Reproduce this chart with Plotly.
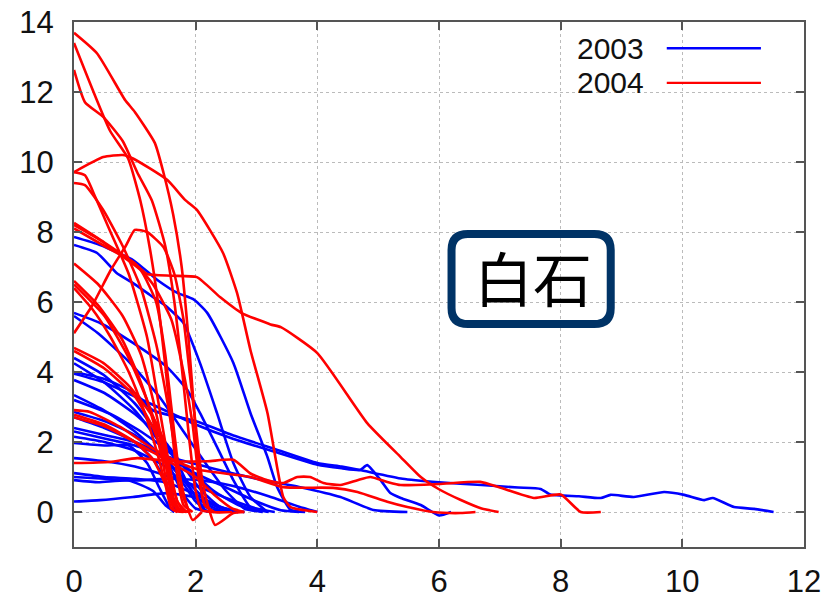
import plotly.graph_objects as go

# ---------------- data: 2003 (blue) ----------------
b01_x = [0, 0.43, 0.97, 1.37, 1.7, 1.96, 2.19, 2.62, 2.9, 3.18, 3.34, 3.56, 3.8]
b01_y = [7.86, 7.63, 7.2, 6.63, 6.26, 6.08, 5.69, 4.26, 2.83, 1.57, 0.71, 0.06, 0]
b02_x = [0, 0.38, 0.7, 0.97, 1.25, 1.5, 1.8, 2.07, 2.35, 2.62, 2.9, 3.18]
b02_y = [7.63, 7.4, 6.83, 6.54, 6.2, 5.9, 5.4, 4.26, 2.83, 1.4, 0.43, 0]
b03_x = [0, 0.43, 0.97, 1.53, 1.86, 2.07, 2.35, 2.62, 2.9, 3.2]
b03_y = [5.69, 5.4, 4.83, 4.14, 3.49, 2.83, 1.86, 0.91, 0.14, 0]
b04_x = [0, 0.4, 0.9, 1.4, 1.8, 2.2, 2.5, 2.8, 3.1]
b04_y = [5.6, 5.1, 4.3, 3.3, 2.3, 1.3, 0.6, 0.1, 0]
b05_x = [0, 0.5, 1.0, 1.4, 1.7, 1.9, 2.1, 2.4]
b05_y = [4.4, 3.9, 3.1, 2.2, 1.4, 0.7, 0.2, 0]
b06_x = [0, 0.5, 1.0, 1.4, 1.6, 1.8, 2.0, 2.3]
b06_y = [4.25, 3.7, 2.9, 2.0, 1.2, 0.5, 0.1, 0]
b07_x = [0, 0.5, 1.0, 1.3, 2.0, 2.6, 3.3, 4.0, 4.4, 4.7, 5.4, 6.0, 6.7, 7.3, 7.67, 7.83,
         8.3, 8.66, 8.82, 9.2, 9.7, 10.03, 10.36, 10.5, 10.85, 11.18, 11.5]
b07_y = [4.0, 3.8, 3.4, 2.9, 2.6, 2.2, 1.8, 1.4, 1.3, 1.2, 0.95, 0.85, 0.77, 0.7, 0.66, 0.5,
         0.45, 0.4, 0.49, 0.43, 0.57, 0.49, 0.34, 0.4, 0.14, 0.09, 0]
b08_x = [0, 0.5, 1.0, 1.5, 2.0, 2.6, 3.3, 4.0, 4.4, 4.7, 4.82, 5.04, 5.2, 5.37, 5.7, 6.0, 6.2]
b08_y = [3.95, 3.7, 3.3, 2.9, 2.5, 2.1, 1.72, 1.35, 1.25, 1.2, 1.34, 0.91, 0.54, 0.4, 0.2, -0.1, 0]
b09_x = [0, 0.5, 1.0, 1.5, 1.8, 2.1, 2.4, 2.7]
b09_y = [3.77, 3.4, 2.8, 2.0, 1.3, 0.6, 0.15, 0]
b10_x = [0, 0.5, 1.0, 1.5, 1.9, 2.2, 2.5, 2.8]
b10_y = [3.34, 2.9, 2.3, 1.5, 0.8, 0.3, 0.05, 0]
b11_x = [0, 0.6, 1.1, 1.5, 1.9, 2.3, 2.7, 3.1]
b11_y = [3.2, 2.8, 2.3, 1.8, 1.2, 0.6, 0.2, 0]
b12_x = [0, 0.5, 1.0, 1.5, 1.8, 2.1, 2.4, 2.7]
b12_y = [2.86, 2.6, 2.2, 1.5, 0.9, 0.3, 0.05, 0]
b13_x = [0, 0.5, 1.0, 1.3, 1.5, 1.6, 1.7]
b13_y = [2.71, 2.4, 2.0, 1.5, 0.9, 0.3, 0]
b14_x = [0, 0.5, 1.0, 1.5, 2.0, 2.5, 3.0, 3.4, 3.7]
b14_y = [2.4, 2.2, 2.0, 1.6, 1.1, 0.7, 0.3, 0.05, 0]
b15_x = [0, 0.5, 1.0, 1.5, 2.07, 2.5, 3.0, 3.72, 4.38, 4.92, 5.48]
b15_y = [2.3, 2.1, 1.9, 1.6, 1.34, 1.15, 0.95, 0.71, 0.43, 0.06, 0]
b16_x = [0, 0.5, 1.0, 1.5, 1.8, 2.0, 2.2]
b16_y = [2.15, 2.0, 1.75, 1.3, 0.8, 0.3, 0]
b17_x = [0, 0.5, 0.9, 1.2, 1.4, 1.55, 1.65]
b17_y = [1.97, 1.9, 1.9, 1.4, 0.7, 0.2, 0]
b18_x = [0, 0.5, 1.0, 1.5, 2.0, 2.5, 3.0, 3.3]
b18_y = [1.54, 1.45, 1.3, 1.05, 0.75, 0.4, 0.1, 0]
b19_x = [0, 0.5, 1.0, 1.5, 2.0, 2.4, 2.7]
b19_y = [1.11, 1.0, 0.95, 0.85, 0.5, 0.15, 0]
b20_x = [0, 0.4, 0.9, 1.3, 1.5, 1.65]
b20_y = [0.91, 0.85, 0.9, 0.6, 0.2, 0]
b21_x = [0, 0.5, 1.0, 1.5, 2.07, 2.6, 3.2, 3.7, 4.0]
b21_y = [1.0, 0.95, 0.9, 0.95, 0.91, 0.75, 0.45, 0.15, 0]
b22_x = [0, 0.43, 0.97, 1.53, 1.96, 2.4, 2.8]
b22_y = [0.3, 0.34, 0.43, 0.54, 0.43, 0.12, 0]

# ---------------- data: 2004 (red) ----------------
r01_x = [0, 0.38, 0.84, 1.0, 1.33, 1.47, 1.63, 1.77, 1.88, 1.97, 2.05, 2.15, 2.3, 2.6]
r01_y = [13.69, 13.1, 11.77, 11.43, 10.54, 9.7, 8.5, 7.0, 5.0, 3.0, 1.2, 0.2, 0, 0]
r02_x = [0, 0.59, 0.89, 1.09, 1.25, 1.38, 1.5, 1.6, 1.7, 1.8, 1.95]
r02_y = [13.4, 10.9, 10.1, 8.9, 7.5, 6.0, 4.2, 2.5, 1.0, 0.2, 0]
r03_x = [0, 0.18, 0.48, 0.8, 1.04, 1.28, 1.5, 1.65, 1.78, 1.9, 2.0, 2.1, 2.3]
r03_y = [12.63, 11.71, 11.29, 10.6, 9.7, 8.9, 7.6, 6.0, 4.0, 2.0, 0.6, 0.05, 0]
r04_x = [0, 0.48, 0.8, 0.97, 1.53, 1.83, 2.02, 2.45, 2.68, 2.76, 2.9, 3.18, 3.44, 3.56, 4.0]
r04_y = [9.71, 10.14, 10.2, 10.1, 9.49, 8.91, 8.63, 7.4, 6.26, 5.69, 4.63, 2.83, 0.43, 0.14, 0]
r05_x = [0, 0.18, 0.35, 0.6, 0.9, 1.2, 1.4, 1.55, 1.7, 1.85]
r05_y = [9.71, 9.62, 9.0, 8.0, 6.8, 5.0, 3.0, 1.5, 0.3, 0]
r06_x = [0, 0.18, 0.48, 0.8, 1.1, 1.35, 1.55, 1.7, 1.82, 1.95, 2.1]
r06_y = [9.4, 9.34, 8.63, 7.6, 6.4, 4.8, 3.0, 1.4, 0.4, -0.23, 0]
r07_x = [0, 0.3, 0.6, 0.85, 1.0, 1.2, 1.47, 1.65, 1.8, 1.9, 2.0, 2.1, 2.2, 2.32, 2.62, 2.8]
r07_y = [5.11, 5.9, 6.9, 7.6, 8.06, 8.0, 7.57, 6.8, 5.5, 4.0, 2.5, 1.0, 0.2, -0.37, -0.03, 0]
r08_x = [0, 0.5, 0.97, 1.2, 1.6, 2.02, 2.4, 2.75, 3.23, 3.4, 4.0, 4.82, 5.37, 5.7,
         6.0, 6.35, 6.7, 6.98]
r08_y = [8.26, 7.7, 7.14, 6.8, 6.75, 6.71, 6.14, 5.69, 5.36, 5.28, 4.54, 2.54, 1.57, 1.0,
         0.65, 0.35, 0.1, 0]
r09_x = [0, 0.4, 0.8, 1.1, 1.35, 1.5, 1.6, 1.7, 1.8, 1.9]
r09_y = [8.2, 7.8, 7.3, 6.9, 6.0, 4.5, 3.0, 1.5, 0.4, 0]
r10_x = [0, 0.5, 1.0, 1.3, 1.6, 1.8, 1.95, 2.05, 2.15, 2.3]
r10_y = [8.1, 7.6, 7.1, 6.5, 5.5, 4.0, 2.5, 1.0, 0.2, 0]
r11_x = [0, 0.4, 0.8, 1.1, 1.3, 1.45, 1.55, 1.65, 1.75]
r11_y = [7.1, 6.5, 5.6, 4.5, 3.2, 2.0, 1.0, 0.2, 0]
r12_x = [0, 0.4, 0.8, 1.1, 1.3, 1.45, 1.55, 1.65, 1.8]
r12_y = [6.6, 5.9, 4.9, 3.7, 2.6, 1.5, 0.6, 0.05, 0]
r13_x = [0, 0.3, 0.6, 0.9, 1.15, 1.35, 1.5, 1.6, 1.7]
r13_y = [6.4, 5.8, 5.0, 4.0, 2.9, 1.8, 0.8, 0.1, 0]
r14_x = [0, 0.48, 0.92, 1.3, 1.47, 1.63, 1.74, 1.9]
r14_y = [4.69, 4.26, 3.57, 2.71, 2.06, 0.43, 0.06, 0]
r15_x = [0, 0.5, 1.0, 1.3, 1.5, 1.6, 1.7, 1.85]
r15_y = [4.6, 4.1, 3.3, 2.4, 1.4, 0.5, 0.05, 0]
r16_x = [0, 0.26, 0.76, 1.25, 1.74, 2.07, 2.9, 3.44, 4.26, 4.66, 5.15, 5.48, 5.9, 6.35, 6.6]
r16_y = [2.91, 2.86, 2.43, 1.86, 1.4, 1.2, 1.0, 0.71, 0.69, 0.57, 0.29, 0.14, 0, -0.03, 0]
r17_x = [0, 0.59, 1.04, 1.6, 2.2, 2.62, 2.9, 3.18, 3.44, 3.67, 3.88, 4.1, 4.38, 4.66, 4.87,
         5.15, 5.37, 6.0, 6.68, 7.0, 7.56, 8.0, 8.33, 8.66]
r17_y = [1.4, 1.43, 1.54, 1.45, 1.45, 1.49, 1.1, 0.91, 0.83, 1.0, 1.0, 0.83, 0.77, 0.91, 1.0,
         0.86, 0.77, 0.8, 0.86, 0.7, 0.4, 0.5, 0, 0]
r18_x = [0, 0.5, 1.0, 1.3, 1.5, 1.65, 1.8]
r18_y = [2.78, 2.5, 2.0, 1.5, 0.8, 0.2, 0]
r19_x = [0, 0.5, 1.0, 1.4, 1.7, 2.0, 2.3, 2.6, 2.8]
r19_y = [2.7, 2.45, 2.0, 1.6, 1.3, 1.0, 0.5, 0.1, 0]
r20_x = [0, 0.5, 0.9, 1.2, 1.4, 1.55, 1.7, 1.8]
r20_y = [6.5, 5.6, 4.4, 3.2, 2.2, 1.2, 0.3, 0]

curves_2003 = [(b01_x, b01_y), (b02_x, b02_y), (b03_x, b03_y), (b04_x, b04_y), (b05_x, b05_y),
               (b06_x, b06_y), (b07_x, b07_y), (b08_x, b08_y), (b09_x, b09_y), (b10_x, b10_y),
               (b11_x, b11_y), (b12_x, b12_y), (b13_x, b13_y), (b14_x, b14_y), (b15_x, b15_y),
               (b16_x, b16_y), (b17_x, b17_y), (b18_x, b18_y), (b19_x, b19_y), (b20_x, b20_y),
               (b21_x, b21_y), (b22_x, b22_y)]
curves_2004 = [(r01_x, r01_y), (r02_x, r02_y), (r03_x, r03_y), (r04_x, r04_y), (r05_x, r05_y),
               (r06_x, r06_y), (r07_x, r07_y), (r08_x, r08_y), (r09_x, r09_y), (r10_x, r10_y),
               (r11_x, r11_y), (r12_x, r12_y), (r13_x, r13_y), (r14_x, r14_y), (r15_x, r15_y),
               (r16_x, r16_y), (r17_x, r17_y), (r18_x, r18_y), (r19_x, r19_y), (r20_x, r20_y)]

x_ticks = [0, 2, 4, 6, 8, 10, 12]
y_ticks = [0, 2, 4, 6, 8, 10, 12, 14]
series_names = ["2003", "2004"]
series_colors = ["#0000ff", "#ff0000"]
station_label = "白石"

fig = go.Figure()
for (cx, cy) in curves_2003:
    fig.add_trace(go.Scatter(x=cx, y=cy, mode="lines", showlegend=False, hoverinfo="skip",
                             line=dict(color=series_colors[0], width=2.6, shape="spline", smoothing=0.5)))
for (cx, cy) in curves_2004:
    fig.add_trace(go.Scatter(x=cx, y=cy, mode="lines", showlegend=False, hoverinfo="skip",
                             line=dict(color=series_colors[1], width=2.6, shape="spline", smoothing=0.5)))

axis_common = dict(
    showline=True, mirror="ticks", linecolor="#555555", linewidth=2,
    ticks="inside", ticklen=8, tickwidth=1.5, tickcolor="#555555",
    showgrid=True, gridcolor="#bbbbbb", griddash="dot", gridwidth=1,
    zeroline=False, automargin=False, ticklabeloverflow="allow",
    tickfont=dict(family="Liberation Sans, Arial, sans-serif", size=31, color="#111111"),
)
fig.update_xaxes(range=[0, 12], tickvals=x_ticks, ticklabelstandoff=6, **axis_common)
fig.update_yaxes(range=[-1, 14], tickvals=y_ticks, ticklabelstandoff=12, **axis_common)

# manual gnuplot-style legend (text left, line sample right)
legend_y = [0.950, 0.884]
for name, col, ly in zip(series_names, series_colors, legend_y):
    fig.add_annotation(x=0.784, y=ly, xref="paper", yref="paper", text=name, showarrow=False,
                       xanchor="right", yanchor="middle",
                       font=dict(family="Liberation Sans, Arial, sans-serif", size=30, color="#111111"))
    fig.add_shape(type="line", xref="paper", yref="paper", x0=0.812, x1=0.941, y0=ly, y1=ly,
                  line=dict(color=col, width=2.4))

# rounded box with station name
x0, x1, y0, y1, rx, ry = 6.206, 8.823, 5.371, 7.943, 0.27, 0.46
path = (f"M {x0+rx},{y0} L {x1-rx},{y0} Q {x1},{y0} {x1},{y0+ry} L {x1},{y1-ry} "
        f"Q {x1},{y1} {x1-rx},{y1} L {x0+rx},{y1} Q {x0},{y1} {x0},{y1-ry} "
        f"L {x0},{y0+ry} Q {x0},{y0} {x0+rx},{y0} Z")
fig.add_shape(type="path", path=path, xref="x", yref="y",
              line=dict(color="#003366", width=8), fillcolor="rgba(0,0,0,0)")
fig.add_annotation(x=7.54, y=6.72, xref="x", yref="y", text=station_label,
                   showarrow=False, xanchor="center", yanchor="middle",
                   font=dict(family="Noto Sans CJK JP", size=59, color="#000000"))

# page body has an 8px default margin, so the figure is sized to fit the window
fig.update_layout(
    width=829, height=589,
    margin=dict(l=66, r=33, t=14, b=50),
    paper_bgcolor="white", plot_bgcolor="white",
    showlegend=False,
)
fig.write_html("out.html")
